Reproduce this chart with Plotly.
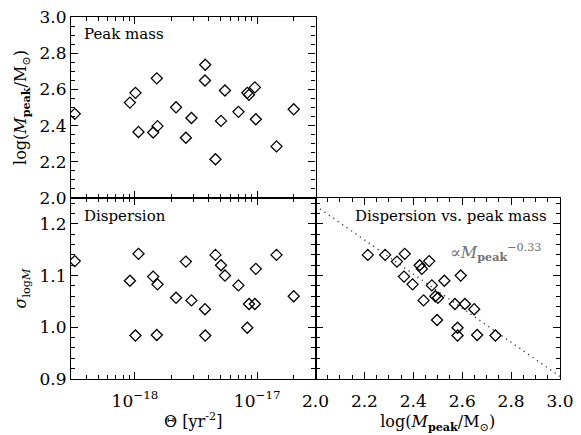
import numpy as np
import plotly.graph_objects as go

# ---- data ----
theta = [2.2e-19, 3.22e-19, 9.1e-19, 1.01e-18, 1.07e-18, 1.41e-18, 1.51e-18, 1.53e-18,
         2.17e-18, 2.61e-18, 2.90e-18, 3.76e-18, 3.74e-18, 4.56e-18, 5.06e-18,
         5.45e-18, 7.03e-18, 8.30e-18, 8.57e-18, 9.58e-18, 9.75e-18, 1.44e-17, 1.99e-17]
log_mpeak = [2.497, 2.465, 2.527, 2.581, 2.365, 2.362, 2.661, 2.397,
             2.501, 2.333, 2.442, 2.736, 2.649, 2.214, 2.426,
             2.594, 2.476, 2.581, 2.570, 2.611, 2.435, 2.285, 2.490]
sigma = [1.014, 1.128, 1.090, 0.984, 1.142, 1.098, 0.985, 1.083,
         1.057, 1.127, 1.052, 0.984, 1.035, 1.140, 1.120,
         1.100, 1.081, 0.999, 1.045, 1.045, 1.113, 1.140, 1.060]
theta_ticks = [1e-18, 1e-17]
theta_ticktext = ["10<sup>−18</sup>", "10<sup>−17</sup>"]
fit_slope = -0.33
fit_at2 = 1.235
fit_x = [2.0, 3.0]
fit_y = [fit_at2 + fit_slope * (v - 2.0) for v in fit_x]

FONT = "DejaVu Serif"
marker = dict(symbol="diamond-open", size=8.5, color="black", line=dict(width=1.3, color="black"))

fig = go.Figure()
fig.add_trace(go.Scatter(x=theta, y=log_mpeak, mode="markers", marker=marker,
                         xaxis="x", yaxis="y", showlegend=False))
fig.add_trace(go.Scatter(x=theta, y=sigma, mode="markers", marker=marker,
                         xaxis="x2", yaxis="y2", showlegend=False))
fig.add_trace(go.Scatter(x=fit_x, y=fit_y, mode="lines",
                         line=dict(color="#505050", width=1.4, dash="1.4px,4px"),
                         xaxis="x3", yaxis="y3", showlegend=False))
fig.add_trace(go.Scatter(x=log_mpeak, y=sigma, mode="markers", marker=marker,
                         xaxis="x3", yaxis="y3", showlegend=False))

logminor = [m * 10.0 ** e for e in (-19, -18, -17) for m in range(2, 10)]
common = dict(showline=True, linecolor="black", linewidth=1.2, mirror="ticks",
              ticks="inside", ticklen=7, tickwidth=1, tickcolor="black",
              showgrid=False, zeroline=False, ticklabeloverflow="allow",
              tickfont=dict(family=FONT, size=17, color="black"))
logx = dict(common, type="log", range=[np.log10(3e-19), np.log10(3e-17)],
            tickmode="array", tickvals=theta_ticks, ticktext=theta_ticktext,
            minor=dict(ticks="inside", ticklen=4, tickcolor="black",
                       tickmode="array", tickvals=logminor, showgrid=False))

fig.update_layout(
    width=581, height=435, autosize=False,
    margin=dict(l=71, r=15, t=7, b=54),
    paper_bgcolor="white", plot_bgcolor="white",
    font=dict(family=FONT, size=16, color="black"),
    xaxis=dict(logx, domain=[0, 0.5], anchor="y", showticklabels=False),
    yaxis=dict(common, domain=[0.5, 1.0], anchor="x", range=[2.0, 3.0], dtick=0.2,
               tickformat=".1f",
               minor=dict(ticks="inside", ticklen=4, dtick=0.05, tickcolor="black"),
               title=dict(text="log(<i>M</i><sub><b>peak</b></sub>/M<sub>⊙</sub>)",
                          standoff=8, font=dict(family=FONT, size=16))),
    xaxis2=dict(logx, domain=[0, 0.5], anchor="y2", ticklabelstandoff=6,
                title=dict(text="Θ [yr<sup>-2</sup>]", standoff=6,
                           font=dict(family=FONT, size=16))),
    yaxis2=dict(common, domain=[0, 0.5], anchor="x2", range=[0.9, 1.25], dtick=0.1,
                tickformat=".1f",
                minor=dict(ticks="inside", ticklen=4, dtick=0.02, tickcolor="black"),
                title=dict(text="<i>σ</i><sub>log<i>M</i></sub>", standoff=8,
                           font=dict(family=FONT, size=16))),
    xaxis3=dict(common, domain=[0.5, 1.0], anchor="y3", range=[2.0, 3.0], dtick=0.2,
                tickformat=".1f", ticklabelstandoff=6,
                minor=dict(ticks="inside", ticklen=4, dtick=0.05, tickcolor="black"),
                title=dict(text="log(<i>M</i><sub><b>peak</b></sub>/M<sub>⊙</sub>)",
                           standoff=6, font=dict(family=FONT, size=16))),
    yaxis3=dict(common, domain=[0, 0.5], anchor="x3", range=[0.9, 1.25], dtick=0.1,
                showticklabels=False,
                minor=dict(ticks="inside", ticklen=4, dtick=0.02, tickcolor="black")),
)

ann_font = dict(family=FONT, size=15, color="black")
fig.add_annotation(text="Peak mass", xref="x domain", yref="y domain", x=0.045, y=0.905,
                   xanchor="left", yanchor="middle", showarrow=False, font=ann_font)
fig.add_annotation(text="Dispersion", xref="x2 domain", yref="y2 domain", x=0.045, y=0.90,
                   xanchor="left", yanchor="middle", showarrow=False, font=ann_font)
fig.add_annotation(text="Dispersion vs. peak mass", xref="x3 domain", yref="y3 domain",
                   x=0.955, y=0.90, xanchor="right", yanchor="middle", showarrow=False,
                   font=ann_font)
fig.add_annotation(text="∝<i>M</i><sub><b>peak</b></sub><sup>−0.33</sup>",
                   xref="x3 domain", yref="y3 domain", x=0.54, y=0.70,
                   xanchor="left", yanchor="middle", showarrow=False,
                   font=dict(family=FONT, size=16, color="#707070"))

fig.write_html("out.html")
